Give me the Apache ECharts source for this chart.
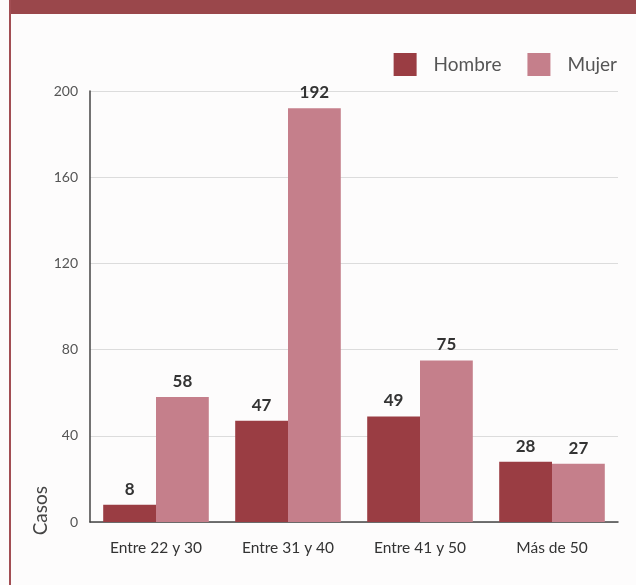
<!DOCTYPE html>
<html>
<head>
<meta charset="utf-8">
<script src="https://cdn.jsdelivr.net/npm/echarts@6/dist/echarts.min.js"></script>
<style>
  html, body { margin: 0; padding: 0; background: #fdfcfc; }
  #chart { width: 636px; height: 585px; }
</style>
</head>
<body>
<div id="chart"></div>
<script>
// age groups
const categories = ['Entre 22 y 30', 'Entre 31 y 40', 'Entre 41 y 50', 'Más de 50']
const hombre = [8, 47, 49, 28]
const mujer = [58, 192, 75, 27]
const yTicks = [0, 40, 80, 120, 160, 200]

const fontFamily = 'Lato, "Open Sans", sans-serif'

const chart = echarts.init(document.getElementById('chart'))

chart.setOption({
  backgroundColor: '#fdfcfc',
  animation: false,
  textStyle: { fontFamily: fontFamily },
  legend: {
    top: 48,
    right: 14,
    itemWidth: 23,
    itemHeight: 23,
    itemGap: 26,
    icon: 'rect',
    textStyle: { fontSize: 19, color: '#555', padding: [0, 0, 0, 12] },
    data: ['Hombre', 'Mujer']
  },
  grid: {
    left: 90,
    right: 18,
    top: 91,
    bottom: 63,
    containLabel: false
  },
  xAxis: {
    type: 'category',
    data: categories,
    axisLine: { lineStyle: { color: '#444', width: 1.5 } },
    axisTick: { show: false },
    axisLabel: { color: '#333', fontSize: 15.5, margin: 18 }
  },
  yAxis: {
    type: 'value',
    min: yTicks[0],
    max: yTicks[yTicks.length - 1],
    interval: 40,
    axisLine: { show: true, lineStyle: { color: '#444', width: 1.5 } },
    axisTick: { show: false },
    axisLabel: { color: '#555', fontSize: 14, margin: 12 },
    splitLine: { lineStyle: { color: '#dcdcdc', width: 1 } }
  },
  graphic: [
    // top band and left border
    { type: 'rect', shape: { x: 9, y: 0, width: 627, height: 14 }, style: { fill: '#9a474b' }, z: 10 },
    { type: 'rect', shape: { x: 9, y: 0, width: 2, height: 585 }, style: { fill: '#a24e53' }, z: 10 },
    {
      type: 'text',
      left: 31,
      top: 486,
      rotation: Math.PI / 2,
      style: { text: 'Casos', fontSize: 19, fill: '#444', fontFamily: fontFamily }
    }
  ],
  series: [
    {
      name: 'Hombre',
      type: 'bar',
      data: hombre,
      barGap: '0%',
      barCategoryGap: '20%',
      itemStyle: { color: '#9a3d43' },
      label: { show: true, position: 'top', distance: 7, color: '#333', fontSize: 17, fontWeight: 'bold' }
    },
    {
      name: 'Mujer',
      type: 'bar',
      data: mujer,
      barGap: '0%',
      barCategoryGap: '20%',
      itemStyle: { color: '#c57f8b' },
      label: { show: true, position: 'top', distance: 7, color: '#333', fontSize: 17, fontWeight: 'bold' }
    }
  ]
})
</script>
</body>
</html>
